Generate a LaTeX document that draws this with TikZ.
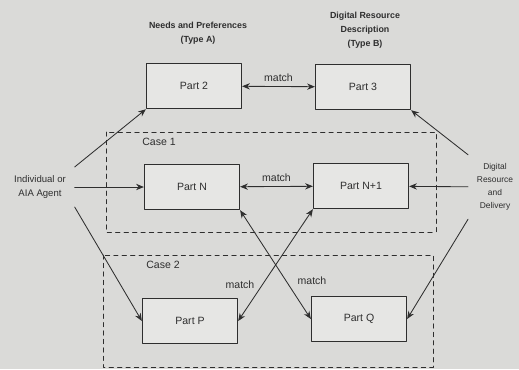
\documentclass[tikz,border=0pt]{standalone}
\usepackage{fontspec}
\setmainfont{Liberation Sans}
\usetikzlibrary{arrows.meta}
\definecolor{paper}{HTML}{DADAD8}
\definecolor{boxfill}{HTML}{E6E6E4}
\definecolor{ink}{HTML}{2E2E2E}
\begin{document}
\begin{tikzpicture}[x=0.025cm, y=-0.025cm, line cap=round, line join=round, >={Stealth[length=5.5pt,width=4.5pt]},
  partbox/.style={draw=ink, fill=boxfill, line width=0.9pt, minimum width=2.375cm, minimum height=1.13cm, text=ink, font=\fontsize{7.5}{9}\selectfont},
  casebox/.style={draw=ink, dashed, line width=0.7pt},
  heading/.style={align=center, text=ink, font=\fontsize{6.3}{10}\bfseries},
  side/.style={align=center, text=ink, outer sep=3pt},
  matchlabel/.style={text=ink, font=\fontsize{7.5}{9}\selectfont},
  link/.style={draw=ink, line width=0.6pt}]

% background
\fill[paper] (0,0) rectangle (519,369);
\useasboundingbox (0,0) rectangle (519,369);

% dashed cases
\draw[casebox] (106,132) rectangle (436,232);
\draw[casebox] (103,255) rectangle (433,367);
\node[matchlabel] (case1) at (159,142) {Case 1};
\node[matchlabel] (case2) at (163,265) {Case 2};

% headings
\node[heading] (typeA) at (198,33) {Needs and Preferences\\(Type A)};
\node[heading] (typeB) at (365,30) {Digital Resource\\Description\\(Type B)};

% parts
\node[partbox] (p2)  at (194,86)  {Part 2};
\node[partbox] (p3)  at (363,87)  {Part 3};
\node[partbox] (pn)  at (192,187) {Part N};
\node[partbox] (pn1) at (361,186) {Part N+1};
\node[partbox] (pp)  at (190,321) {Part P};
\node[partbox] (pq)  at (359,319) {Part Q};

% sides
\node[side, font=\fontsize{6.8}{9.5}\selectfont] (agent) at (40,187) {Individual or\\AIA Agent};
\node[side, font=\fontsize{6}{9.2}\selectfont] (deliv) at (495,187) {Digital\\Resource\\and\\Delivery};

% matches
\draw[link,<->] (p2) -- node[matchlabel, above] {match} (p3);
\draw[link,<->] (pn) -- node[matchlabel, above] {match} (pn1);
\draw[link,<->] (pn.south east) -- (pq.west);
\draw[link,<->] (pn1.south west) -- (pp.east);
\node[matchlabel] (m1) at (240,285) {match};
\node[matchlabel] (m2) at (312,281) {match};

% inputs
\draw[link,->] (agent.north east) -- (p2.south west);
\draw[link,->] (agent) -- (pn);
\draw[link,->] (agent.south east) -- (pp.west);
\draw[link,->] (deliv.north west) -- (p3.south east);
\draw[link,->] (deliv) -- (pn1);
\draw[link,->] (deliv.south west) -- (pq.east);

\end{tikzpicture}
\end{document}
